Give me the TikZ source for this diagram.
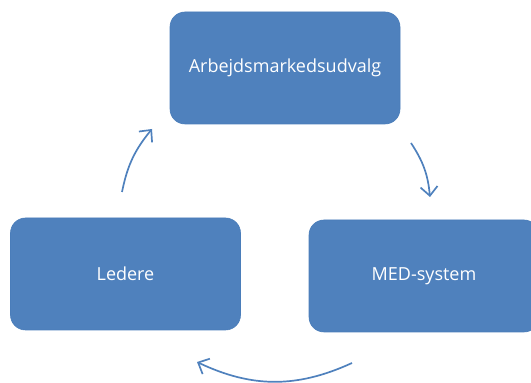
\documentclass[tikz,border=0pt]{standalone}
\usepackage{fontspec}
\setmainfont{Open Sans}
\usetikzlibrary{arrows.meta}
\definecolor{boxblue}{HTML}{4F81BD}
\definecolor{boxline}{HTML}{4A7DBA}
\begin{document}
\begin{tikzpicture} [x=1pt, y=1pt,
	boks/.style={rectangle, rounded corners=15pt, fill=boxblue, draw=boxline, line width=0.6pt, minimum width=230pt, minimum height=112pt, text=white, font=\fontsize{18}{22}\selectfont},
	pil/.style={-{Straight Barb[length=9pt, width=17pt]}, line width=1.7pt, boxblue}]
	\useasboundingbox (0,0) rectangle (531,383);
	%%% Bokse
	\node[boks] (udvalg) at (285,315) {Arbejdsmarkedsudvalg};
	\node[boks] (ledere) at (125.5,109) {Ledere};
	\begin{scope}
		\clip (0,0) rectangle (531,383);
		\node[boks] (med) at (424,107) {MED-system};
	\end{scope}
	%%% Pile
	\coordinate (a1) at (122,191);
	\coordinate (b1) at (152,254);
	\coordinate (a2) at (411,240);
	\coordinate (b2) at (430,186);
	\coordinate (a3) at (352,20);
	\coordinate (b3) at (197,21);
	\draw[pil] (a1) to[bend left=14] (b1);
	\draw[pil] (a2) to[bend left=14] (b2);
	\draw[pil] (a3) to[bend left=25] (b3);
\end{tikzpicture}
\end{document}
